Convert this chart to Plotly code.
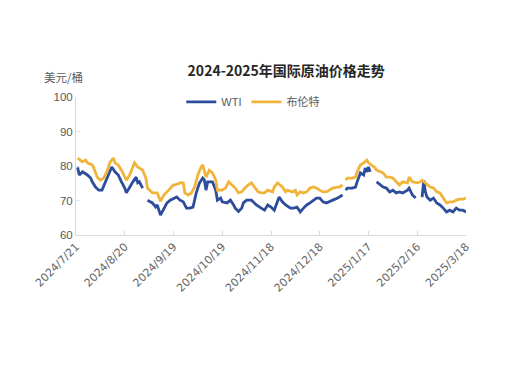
import pandas as pd
import plotly.graph_objects as go

# day offsets from 2024-07-21
brent_days = [1, 4, 6, 7, 10, 11, 13, 15, 17, 19, 21, 23, 24, 26, 28, 30, 31, 33, 35, 36, 38, 39, 41, 43, 44, 47, 49, 50, 52, 54, 56, 58, 60, 61, 64, 66, 67, 69, 71, 73, 75, 77, 78, 80, 82, 84, 86, 87, 90, 92, 94, 96, 98, 100, 102, 104, 106, 108, 110, 112, 114, 116, 118, 121, 122, 124, 127, 129, 130, 133, 135, 136, 138, 140, 142, 144, 146, 148, 150, 152, 154, 156, 158, 161, 162, 164, 165, 166, 167, 170, 172, 173, 175, 177, 179, 180, 182, 184, 185, 187, 189, 191, 193, 195, 197, 199, 201, 204, 205, 207, 210, 212, 213, 215, 216, 218, 220, 222, 224, 226, 228, 230, 232, 234, 236, 238, 240]
brent_vals = [82.3, 81.2, 81.7, 80.9, 80.3, 79.4, 76.8, 75.9, 76.5, 78.3, 81.2, 82.3, 80.9, 80.3, 78.8, 76.8, 75.9, 77.4, 79.4, 80.9, 79.7, 79.4, 78.8, 76.5, 73.6, 72.2, 72.2, 72.2, 69.8, 71.6, 72.5, 73.6, 74.5, 74.5, 75.1, 75.1, 72.2, 71.6, 72.2, 73.9, 77.4, 79.7, 80.3, 76.8, 78.8, 78.0, 75.9, 73.0, 73.0, 73.6, 75.4, 74.5, 73.6, 72.2, 72.5, 73.6, 74.5, 75.1, 73.9, 72.5, 72.2, 72.2, 73.0, 72.5, 73.9, 75.1, 73.9, 72.5, 73.0, 72.5, 73.0, 71.6, 72.5, 72.2, 72.5, 73.6, 73.9, 73.6, 73.0, 72.5, 72.5, 73.0, 73.6, 73.9, 73.9, 74.5, None, 75.9, 76.5, 76.5, 76.8, 78.3, 80.3, 80.9, 81.7, 80.9, 80.3, 79.5, 78.8, 78.3, 78.0, 76.8, 76.8, 76.5, 75.4, 74.5, 75.4, 75.1, 76.8, 75.4, 75.1, 75.4, 75.9, 75.1, 74.5, 73.9, 73.6, 72.5, 72.2, 70.7, 69.3, 69.6, 69.6, 70.1, 70.4, 70.4, 70.7]

wti_days = [1, 2, 4, 7, 9, 10, 12, 14, 16, 18, 20, 22, 24, 26, 28, 30, 31, 33, 35, 37, 38, 39, 41, 42, 44, 47, 49, 50, 52, 54, 56, 58, 60, 62, 64, 66, 68, 70, 72, 74, 76, 78, 79, 80, 81, 84, 86, 87, 89, 90, 93, 95, 97, 98, 100, 102, 103, 105, 108, 110, 111, 114, 116, 118, 120, 122, 124, 125, 127, 129, 132, 134, 136, 138, 140, 142, 144, 146, 148, 150, 152, 154, 156, 158, 161, 162, 164, 165, 166, 167, 170, 172, 173, 175, 177, 178, 179, 180, 181, 183, 185, 187, 189, 191, 193, 195, 197, 199, 201, 204, 205, 207, 209, 211, 213, 214, 215, 216, 218, 220, 222, 224, 226, 228, 230, 232, 234, 236, 238, 240]
wti_vals = [79.6, 77.4, 78.3, 77.4, 76.5, 75.4, 73.9, 73.0, 73.0, 75.1, 77.4, 79.7, 78.3, 77.4, 75.4, 73.6, 72.2, 73.9, 75.4, 76.8, 75.1, 75.4, 73.6, None, 70.1, 69.3, 68.1, 68.7, 65.8, 67.8, 69.3, 70.1, 70.5, 71.0, 70.1, 69.6, 67.8, 67.8, 68.1, 72.2, 75.1, 76.5, 75.9, 73.0, 75.4, 75.4, 73.0, 70.1, 70.7, 69.6, 69.3, 70.1, 68.7, 67.8, 66.8, 67.8, 69.3, 70.1, 70.1, 69.3, 68.7, 67.8, 67.2, 68.7, 68.1, 67.2, 69.6, 71.0, 69.6, 68.7, 67.8, 67.8, 68.1, 66.7, 67.8, 68.7, 69.3, 70.1, 70.7, 70.7, 69.6, 69.3, 69.6, 70.1, 70.7, 71.0, 71.6, None, 73.0, 73.6, 73.6, 73.9, 75.4, 78.0, 77.4, 79.4, 78.3, 79.7, 78.3, None, 75.4, 74.5, 73.9, 73.6, 72.5, 73.0, 72.2, 72.5, 72.2, 73.0, 73.6, 71.6, 70.7, None, 71.0, 75.9, 72.5, 71.0, 70.1, 70.7, 69.3, 68.7, 67.8, 66.7, 67.2, 66.7, 67.8, 67.2, 67.2, 66.7]

tick_dates = ["2024-07-21", "2024-08-20", "2024-09-19", "2024-10-19", "2024-11-18",
              "2024-12-18", "2025-01-17", "2025-02-16", "2025-03-18"]
tick_labels = ["2024/7/21", "2024/8/20", "2024/9/19", "2024/10/19", "2024/11/18",
               "2024/12/18", "2025/1/17", "2025/2/16", "2025/3/18"]

start = pd.Timestamp("2024-07-21")
brent_x = start + pd.to_timedelta(brent_days, unit="D")
wti_x = start + pd.to_timedelta(wti_days, unit="D")

fig = go.Figure()
fig.add_trace(go.Scatter(x=wti_x, y=wti_vals, mode="lines", name="WTI",
                         line=dict(color="#2c4c9c", width=2.8), connectgaps=False))
fig.add_trace(go.Scatter(x=brent_x, y=brent_vals, mode="lines", name="布伦特",
                         line=dict(color="#f0b43a", width=2.8), connectgaps=False))

axis_font = dict(family="Liberation Sans, Noto Sans CJK SC", size=11.5, color="#595959")

fig.update_layout(
    width=524, height=376,
    margin=dict(l=68, r=66, t=89, b=149, autoexpand=False),
    paper_bgcolor="white", plot_bgcolor="white",
    title=dict(text="<b>2024-2025年国际原油价格走势</b>", x=0.531, xanchor="center",
               y=0.833, yanchor="middle",
               font=dict(family="Noto Sans CJK SC", size=14, color="#262626")),
    legend=dict(orientation="h", x=0.27, xanchor="left", y=1.07, yanchor="top",
                font=dict(family="Liberation Sans, Noto Sans CJK SC", size=11, color="#595959"),
                bgcolor="rgba(0,0,0,0)", itemwidth=30, tracegroupgap=0),
    showlegend=True,
    annotations=[dict(text="美元/桶", xref="paper", yref="paper", x=-0.033, y=1.145,
                      xanchor="center", yanchor="middle", showarrow=False,
                      font=dict(family="Noto Sans CJK SC", size=11.5, color="#595959"))],
)
fig.update_xaxes(
    type="date", range=[start, pd.Timestamp("2025-03-18")], automargin=False,
    tickvals=tick_dates, ticktext=tick_labels, tickangle=-45,
    showgrid=False, showline=True, linecolor="#d9d9d9", linewidth=1,
    ticks="inside", ticklen=4, tickcolor="#d9d9d9",
    tickfont=dict(family="DejaVu Sans", size=11, color="#666666"),
)
fig.update_yaxes(
    range=[60, 100], dtick=10, showgrid=False, showline=True, linecolor="#d9d9d9",
    linewidth=1, ticks="inside", ticklen=4, tickcolor="#e6e6e6", automargin=False,
    tickfont=axis_font, zeroline=False,
)

fig.write_html("out.html")
